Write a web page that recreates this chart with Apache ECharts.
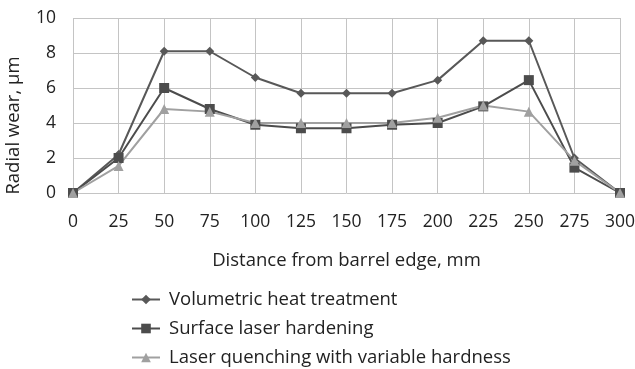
<!DOCTYPE html>
<html><head><meta charset="utf-8">
<script src="https://cdn.jsdelivr.net/npm/echarts@6/dist/echarts.min.js"></script>
<style>html,body{margin:0;padding:0;background:#fff}#c{width:635px;height:369px}</style>
</head><body><div id="c"></div>
<script>
const categories = ['0','25','50','75','100','125','150','175','200','225','250','275','300'];
const volumetric = [0, 2.2, 8.1, 8.1, 6.6, 5.7, 5.7, 5.7, 6.45, 8.7, 8.7, 2.0, 0];
const surface = [0, 2.0, 6.0, 4.8, 3.9, 3.7, 3.7, 3.9, 4.0, 4.95, 6.45, 1.45, 0];
const laser = [0, 1.55, 4.8, 4.65, 4.0, 4.0, 4.0, 4.0, 4.3, 5.0, 4.65, 1.85, 0];
const names = ['Volumetric heat treatment','Surface laser hardening','Laser quenching with variable hardness'];
const font = 'Open Sans';
const chart = echarts.init(document.getElementById('c'));
function s(name, data, color, symbol, size){
  return {name, type:'line', data, symbol, symbolSize:size, lineStyle:{color, width:2}, itemStyle:{color}, animation:false};
}
chart.setOption({
  animation:false,
  grid:{left:73, right:15, top:18, bottom:176, outerBoundsMode:'none', containLabel:false},
  legend:{orient:'vertical', left:126, top:285, bottom:'auto', height:82, itemGap:10, itemWidth:28, itemHeight:12,
    textStyle:{fontFamily:font, fontSize:18.5, lineHeight:18, color:'#222', padding:[0,0,0,4]},
    data:names.map(n=>({name:n}))},
  xAxis:{type:'category', data:categories, boundaryGap:false,
    name:'Distance from barrel edge, mm', nameLocation:'middle', nameGap:58,
    nameTextStyle:{fontFamily:font, fontSize:18.5, color:'#222'},
    axisLine:{show:false}, axisTick:{show:false},
    axisLabel:{fontFamily:font, fontSize:17.5, color:'#222', margin:20},
    splitLine:{show:true, lineStyle:{color:'#c4c4c4', width:1}}},
  yAxis:{type:'value', min:0, max:10, interval:2,
    name:'Radial wear, µm', nameLocation:'middle', nameGap:50,
    nameTextStyle:{fontFamily:font, fontSize:18.5, color:'#222', padding:[0,40,0,0]},
    axisLine:{show:false}, axisTick:{show:false},
    axisLabel:{fontFamily:font, fontSize:17.5, color:'#222', margin:17},
    splitLine:{lineStyle:{color:'#c4c4c4', width:1}}},
  series:[
    s(names[0], volumetric, '#585858', 'diamond', 9),
    s(names[1], surface, '#4c4c4c', 'rect', 10),
    s(names[2], laser, '#a0a0a0', 'triangle', 10)
  ]
});
</script></body></html>
